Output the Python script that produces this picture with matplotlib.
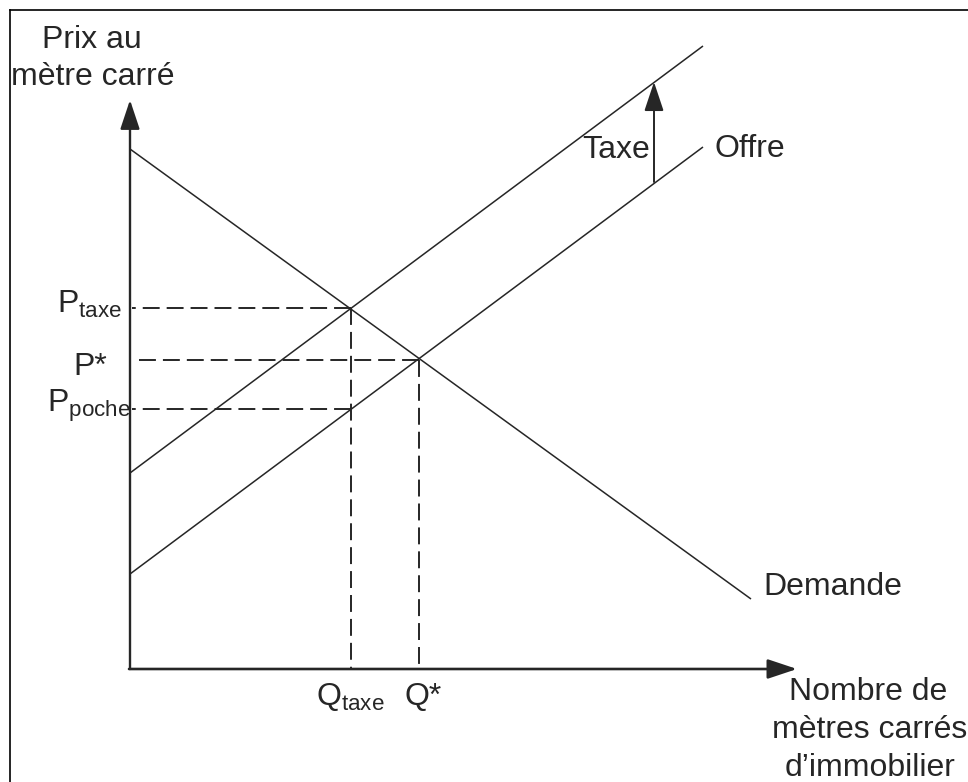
import matplotlib
matplotlib.use("Agg")
import matplotlib.pyplot as plt
from matplotlib.lines import Line2D

plt.rcParams['font.family'] = ['Liberation Sans', 'DejaVu Sans']
plt.rcParams['mathtext.fontset'] = 'custom'
plt.rcParams['mathtext.rm'] = 'Liberation Sans'

# ---- data (chart units) ----
demand_q = [0, 621]
demand_p = [520, 70]
supply_q = [0, 573]
supply_p = [95, 522]
tax_supply_q = [0, 573]
tax_supply_p = [196, 623]

q_star, p_star = 289, 309
q_tax, p_tax, p_poche = 221, 361, 260

tax_arrow_q = 524
tax_arrow_from, tax_arrow_to = 487, 587

x_axis_end = 667
y_axis_end = 569

INK = '#262626'
FS = 23

fig = plt.figure(figsize=(9.68, 7.82), dpi=100)
ax = fig.add_axes([0, 0, 1, 1])
ax.set_xlim(-130, 838)
ax.set_ylim(-113, 669)
ax.axis('off')

# border (left and top)
fig.add_artist(Line2D([9.5 / 968, 9.5 / 968], [0, 1 - 10 / 782], color='black', lw=1.2))
fig.add_artist(Line2D([9.5 / 968, 1], [1 - 10 / 782, 1 - 10 / 782], color='black', lw=1.2))

arrow_style = dict(arrowstyle='-|>,head_length=1.8,head_width=0.6', mutation_scale=10,
                   color=INK, shrinkA=0, shrinkB=0)

# axes
ax.annotate('', xy=(0, y_axis_end), xytext=(0, 0), arrowprops=dict(lw=1.7, **arrow_style))
ax.annotate('', xy=(x_axis_end, 0), xytext=(-1, 0), arrowprops=dict(lw=1.9, **arrow_style))

# curves
ax.plot(demand_q, demand_p, color=INK, lw=1.1, solid_capstyle='butt')
ax.plot(supply_q, supply_p, color=INK, lw=1.1, solid_capstyle='butt')
ax.plot(tax_supply_q, tax_supply_p, color=INK, lw=1.1, solid_capstyle='butt')

# dashed guides (drawn from the intersection point outwards)
dash = (0, (8.7, 3.6))
for p, q in [(p_tax, q_tax), (p_star, q_star), (p_poche, q_tax)]:
    ax.plot([q, 2], [p, p], color=INK, lw=1.4, linestyle=dash)
ax.plot([q_tax, q_tax], [p_tax, 0], color=INK, lw=1.4, linestyle=dash)
ax.plot([q_star, q_star], [p_star, 0], color=INK, lw=1.4, linestyle=dash)

# tax arrow
ax.annotate('', xy=(tax_arrow_q, tax_arrow_to), xytext=(tax_arrow_q, tax_arrow_from),
            arrowprops=dict(lw=1.4, **arrow_style))

# labels
ax.text(-38, 621, 'Prix au', fontsize=FS, color=INK, ha='center', va='baseline')
ax.text(-37, 584, 'mètre carré', fontsize=FS, color=INK, ha='center', va='baseline')

ax.text(738, -31, 'Nombre de', fontsize=FS, color=INK, ha='center', va='baseline')
ax.text(740, -69, 'mètres carrés', fontsize=FS, color=INK, ha='center', va='baseline')
ax.text(740, -107, 'd\u2019immobilier', fontsize=FS, color=INK, ha='center', va='baseline')

ax.text(633, 74, 'Demande', fontsize=FS, color=INK, ha='left', va='baseline')
ax.text(585, 512, 'Offre', fontsize=FS, color=INK, ha='left', va='baseline')
ax.text(520, 511, 'Taxe', fontsize=FS, color=INK, ha='right', va='baseline')

ax.text(-8, 356, r'P$_{\mathregular{taxe}}$', fontsize=FS, color=INK, ha='right', va='baseline')
ax.text(-23, 294, 'P*', fontsize=FS, color=INK, ha='right', va='baseline')
ax.text(1, 257, r'P$_{\mathregular{poche}}$', fontsize=FS, color=INK, ha='right', va='baseline')

ax.text(220, -36, r'Q$_{\mathregular{taxe}}$', fontsize=FS, color=INK, ha='center', va='baseline')
ax.text(293, -36, 'Q*', fontsize=FS, color=INK, ha='center', va='baseline')

fig.savefig('out.png', dpi=100, facecolor='white')
